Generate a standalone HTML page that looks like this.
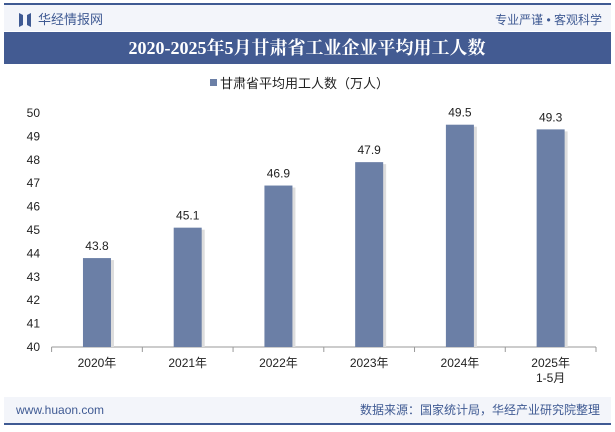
<!DOCTYPE html>
<html><head><meta charset="utf-8"><style>
body{margin:0;width:615px;height:427px;overflow:hidden;background:#fff;font-family:"Liberation Sans","Noto Sans CJK SC",sans-serif;}
</style></head><body>
<svg width="615" height="427" xmlns="http://www.w3.org/2000/svg">
<rect x="4" y="3" width="607" height="2" fill="#3f5a93"/>
<rect x="4" y="5" width="607" height="26" fill="#f3f5fa"/>
<path d="M19 13 L23 15 L23 25 L19 27 Z M27 15 L31 13 L31 27 L27 25 Z" fill="#3f5a93"/>
<text x="38" y="24" font-size="13" fill="#3f5a93">华经情报网</text>
<text x="602" y="24" font-size="12" fill="#3f5a93" text-anchor="end">专业严谨 • 客观科学</text>
<rect x="4" y="32" width="607" height="32" fill="#435b92"/>
<text x="307" y="54" font-size="18" font-weight="bold" fill="#fff" text-anchor="middle" font-family="'Liberation Serif','Noto Serif CJK SC',serif">2020-2025年5月甘肃省工业企业平均用工人数</text>
<rect x="210" y="79" width="7" height="7" fill="#6b7fa6"/>
<text x="220" y="88" font-size="13" fill="#222">甘肃省平均用工人数（万人）</text>
<g id="plot"></g>
<rect x="4" y="397" width="607" height="26" fill="#f3f5fa"/>
<rect x="4" y="423" width="607" height="2" fill="#3f5a93"/>
<text x="16" y="414" font-size="12" fill="#3f5a93">www.huaon.com</text>
<text x="600" y="414" font-size="12" fill="#3f5a93" text-anchor="end">数据来源：国家统计局，华经产业研究院整理</text>
</svg>
<script>
const categories=["2020年","2021年","2022年","2023年","2024年","2025年|1-5月"];
const values=[43.8,45.1,46.9,47.9,49.5,49.3];
const yTicks=[40,41,42,43,44,45,46,47,48,49,50];
const NS="http://www.w3.org/2000/svg";
const g=document.getElementById('plot');
const x0=51.6,x1=596,y0=347,y1=113,ymin=40,ymax=50;
const bw=(x1-x0)/categories.length;
function ys(v){return y0-(v-ymin)/(ymax-ymin)*(y0-y1);}
function xc(i){return x0+bw*(i+0.5);}
function mk(t,a){const e=document.createElementNS(NS,t);for(const k in a)e.setAttribute(k,a[k]);g.appendChild(e);return e;}
yTicks.forEach(v=>{
 const t=mk('text',{x:40,y:ys(v)+4,'font-size':12,fill:'#222','text-anchor':'end'});
 t.textContent=v;
 
 
});
const ax=mk('line',{x1:x0,y1:y0,x2:x1,y2:y0,stroke:'#999'});


for(let i=0;i<=categories.length;i++){
 const tk=mk('line',{x1:x0+bw*i,y1:y0,x2:x0+bw*i,y2:y0+5,stroke:'#999'});
 
 
}
categories.forEach((c,i)=>{
 const v=values[i],x=xc(i);
 const sh=mk('rect',{x:x-14+3,y:ys(v)+2,width:28,height:y0-ys(v)-2,fill:'#ddd'});
 
 
 const b=mk('rect',{x:x-14,y:ys(v),width:28,height:y0-ys(v),fill:'#6b7fa6'});
 
 
 const l=mk('text',{x:x,y:ys(v)-8,'font-size':12,fill:'#222','text-anchor':'middle'});
 l.textContent=v.toFixed(1);
 
 
 c.split('|').forEach((p,j)=>{
  const t=mk('text',{x:x,y:367+j*15,'font-size':12,fill:'#222','text-anchor':'middle'});
  t.textContent=p;
  
  
 });
});
</script>
</body></html>
